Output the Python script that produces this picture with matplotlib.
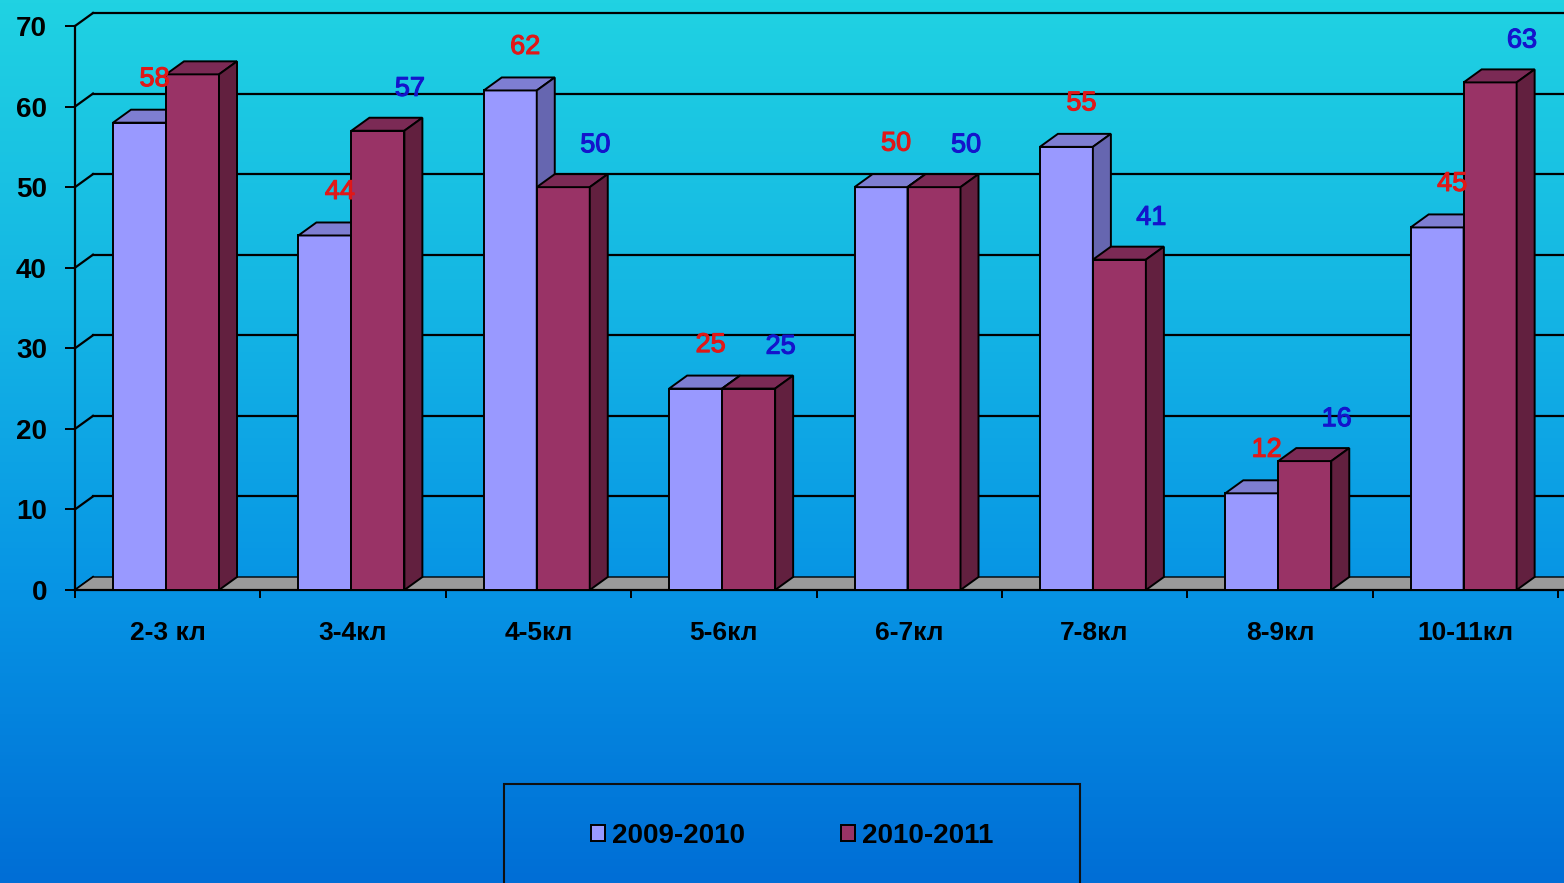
import numpy as np
import matplotlib
matplotlib.use('Agg')
import matplotlib.pyplot as plt
import matplotlib.patheffects as pe
from matplotlib.patches import Polygon, Rectangle
from matplotlib.colors import LinearSegmentedColormap
from matplotlib import font_manager

# ---------------- data ----------------
categories = ['2-3 кл', '3-4кл', '4-5кл', '5-6кл', '6-7кл', '7-8кл', '8-9кл', '10-11кл']
series_names = ['2009-2010', '2010-2011']
values_2009 = [58, 44, 62, 25, 50, 55, 12, 45]
values_2010 = [64, 57, 50, 25, 50, 41, 16, 63]
labels_2009 = ['58', '44', '62', '25', '50', '55', '12', '45']
labels_2010 = ['', '57', '50', '25', '50', '41', '16', '63']
yticks = [0, 10, 20, 30, 40, 50, 60, 70]

# ---------------- fonts ----------------
available = {f.name for f in font_manager.fontManager.ttflist}
base_font = 'Liberation Sans' if 'Liberation Sans' in available else 'DejaVu Sans'
plt.rcParams['font.family'] = [base_font, 'DejaVu Sans']

W, H = 1564, 883
fig = plt.figure(figsize=(W / 100, H / 100), dpi=100)

# ---------------- background gradient ----------------
bg = fig.add_axes([0, 0, 1, 1], zorder=-10)
cmap = LinearSegmentedColormap.from_list(
    'bg', [(0.0, '#20d2e2'), (0.35, '#14b5e4'), (0.67, '#0794e4'), (1.0, '#006ed6')])
grad = np.linspace(0, 1, 256).reshape(-1, 1)
bg.imshow(grad, aspect='auto', cmap=cmap, extent=[0, 1, 1, 0])
bg.set_axis_off()

# ---------------- main axes ----------------
x_left_px, x_right_px = 75, 1558
y0_px, y70_px = 590, 26
ax = fig.add_axes([x_left_px / W, (H - y0_px) / H,
                   (x_right_px - x_left_px) / W, (y0_px - y70_px) / H])
ax.set_facecolor('none')
n = len(categories)
ax.set_xlim(-0.5, n - 0.5)
ax.set_ylim(0, 70)

px_x = (x_right_px - x_left_px) / n
px_y = (y0_px - y70_px) / 70.0
DX = 18 / px_x
DY = 13 / px_y
w = 53 / px_x
xr_end = n - 0.5 + 0.2

# back wall gridlines and left wall diagonals
for v in yticks:
    if v > 0:
        ax.plot([-0.5 + DX, xr_end + DX], [v + DY, v + DY], color='k', lw=1.6,
                clip_on=False, zorder=1)
    ax.plot([-0.5, -0.5 + DX], [v, v + DY], color='k', lw=1.6, clip_on=False, zorder=1)

# floor
floor = Polygon([(-0.5, 0), (xr_end, 0), (xr_end + DX, DY), (-0.5 + DX, DY)],
                closed=True, facecolor='#9a9a9a', edgecolor='k', lw=1.0,
                clip_on=False, zorder=2)
ax.add_patch(floor)
ax.plot([-0.5, xr_end], [0, 0], color='k', lw=1.6, clip_on=False, zorder=2.5)

x = np.arange(n)
centers1 = x - 0.152
centers2 = centers1 + w

front_cols = ['#9999ff', '#993366']
top_cols = ['#7e7ed2', '#7b2a55']
side_cols = ['#6666b0', '#62203f']
label_cols = ['#e01818', '#1414cc']
label_dx = [15 / px_x, 32 / px_x]
label_dy = [5.4, 5.2]

containers = []
for s, (centers, vals, labs) in enumerate([(centers1, values_2009, labels_2009),
                                           (centers2, values_2010, labels_2010)]):
    z = 3 + s
    cont = ax.bar(centers, vals, width=w, color=front_cols[s], edgecolor='k',
                  lw=1.4, zorder=z, label=series_names[s])
    containers.append(cont)
    for c, v in zip(centers, vals):
        xl, xr = c - w / 2, c + w / 2
        top = Polygon([(xl, v), (xr, v), (xr + DX, v + DY), (xl + DX, v + DY)],
                      closed=True, facecolor=top_cols[s], edgecolor='k', lw=1.4,
                      zorder=z, clip_on=False)
        side = Polygon([(xr, 0), (xr, v), (xr + DX, v + DY), (xr + DX, DY)],
                       closed=True, facecolor=side_cols[s], edgecolor='k', lw=1.4,
                       zorder=z, clip_on=False)
        ax.add_patch(top)
        ax.add_patch(side)
    for c, v, lab in zip(centers, vals, labs):
        if lab:
            ax.text(c + label_dx[s], v + label_dy[s], lab, color=label_cols[s],
                    fontsize=19.5, ha='center', va='center', zorder=10,
                    clip_on=False,
                    path_effects=[pe.withStroke(linewidth=0.8,
                                                foreground=label_cols[s])])

# axes styling
for sp in ['top', 'right', 'bottom']:
    ax.spines[sp].set_visible(False)
ax.spines['left'].set_linewidth(1.6)
ax.spines['left'].set_zorder(2.6)
ax.set_yticks(yticks)
ax.set_yticklabels([str(t) for t in yticks], fontsize=20, fontweight='bold')
ax.tick_params(axis='y', length=7.2, width=1.4, pad=13, colors='k')
ax.set_xticks(x)
ax.set_xticklabels(categories, fontsize=19, fontweight='bold')
ax.set_xticks(np.arange(n + 1) - 0.5, minor=True)
ax.tick_params(axis='x', which='major', length=0, pad=22)
ax.tick_params(axis='x', which='minor', length=6, width=1.4, direction='out')

# legend
leg = fig.legend(handles=containers, labels=series_names, loc='center',
                 bbox_to_anchor=(792 / W, 1 - 836 / H), ncol=2, frameon=False,
                 prop={'weight': 'bold', 'size': 20},
                 handlelength=0.5, handleheight=0.5, handletextpad=0.25,
                 columnspacing=3.45)
fig.add_artist(Rectangle((504 / W, (H - 888) / H), 576 / W, 104 / H,
                         transform=fig.transFigure, fill=False,
                         edgecolor='#101010', lw=1.5))

fig.savefig('out.png', dpi=100)
